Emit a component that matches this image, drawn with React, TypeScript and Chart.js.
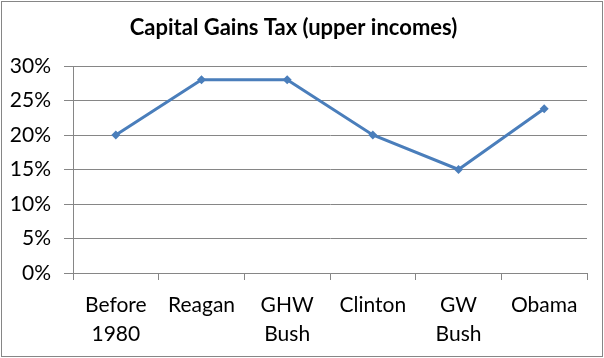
import React, { useEffect, useRef } from "react";
import { Chart, registerables } from "chart.js";

Chart.register(...registerables);

const titleText = "Capital Gains Tax (upper incomes)";
const categories: (string | string[])[] = [
  ["Before", "1980"],
  "Reagan",
  ["GHW", "Bush"],
  "Clinton",
  ["GW", "Bush"],
  "Obama",
];
const taxRates = [20, 28, 28, 20, 15, 23.8];
const yMin = 0;
const yMax = 30;
const yStep = 5;

const lineColor = "#4A7EBB";
const gridColor = "#868686";
const fontFamily = "Lato, 'Open Sans', sans-serif";

const borderPlugin = {
  id: "outerBorder",
  afterDraw(chart: any) {
    const ctx = chart.ctx;
    ctx.save();
    ctx.strokeStyle = "#868686";
    ctx.lineWidth = 1;
    ctx.strokeRect(1.5, 1.5, chart.width - 3, chart.height - 3);
    ctx.restore();
  },
};

export default function App() {
  const ref = useRef<HTMLCanvasElement | null>(null);
  useEffect(() => {
    if (!ref.current) return;
    const chart = new Chart(ref.current, {
      type: "line",
      data: {
        labels: categories,
        datasets: [
          {
            data: taxRates,
            borderColor: lineColor,
            backgroundColor: lineColor,
            borderWidth: 3,
            pointStyle: "rectRot",
            pointRadius: 4.5,
            pointBorderWidth: 0,
            tension: 0,
          },
        ],
      },
      options: {
        animation: false,
        responsive: false,
        devicePixelRatio: 1,
        layout: { padding: { left: 0, right: 17, top: 0, bottom: 0 } },
        plugins: {
          legend: { display: false },
          tooltip: { enabled: false },
          title: {
            display: true,
            text: titleText,
            color: "#000",
            font: { family: fontFamily, size: 22, weight: "bold", lineHeight: 1.2 },
            padding: { top: 15, bottom: 24.6 },
          },
        },
        scales: {
          x: {
            offset: true,
            grid: {
              display: true,
              drawOnChartArea: false,
              offset: true,
              color: gridColor,
              tickLength: 7,
            },
            border: { display: true, color: gridColor, width: 1 },
            ticks: {
              color: "#000",
              font: { family: fontFamily, size: 21, lineHeight: 1.38 },
              padding: 10.5,
              maxRotation: 0,
              autoSkip: false,
            },
            afterFit(scale: any) {
              scale.height = 85;
            },
          },
          y: {
            min: yMin,
            max: yMax,
            grid: { color: gridColor, tickLength: 9 },
            border: { display: true, color: gridColor, width: 1 },
            ticks: {
              stepSize: yStep,
              color: "#000",
              padding: 13,
              font: { family: fontFamily, size: 21 },
              callback: (v: any) => v + "%",
            },
            afterFit(scale: any) {
              scale.width = 73;
            },
          },
        },
      },
      plugins: [borderPlugin],
    });
    return () => chart.destroy();
  }, []);
  return (
    <div style={{ position: "fixed", left: 0, top: 0, width: 604, height: 358, background: "#fff" }}>
      <canvas ref={ref} width={604} height={358} style={{ display: "block" }} />
    </div>
  );
}
